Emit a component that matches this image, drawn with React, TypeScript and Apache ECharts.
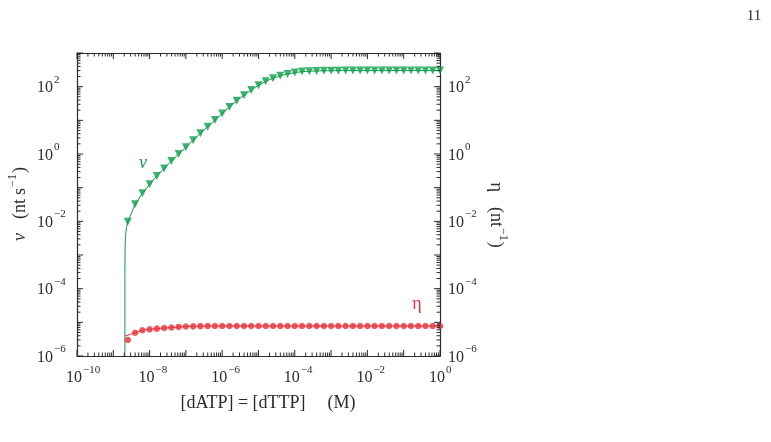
import React, { useEffect, useRef } from "react";
import * as echarts from "echarts";

const FONT = "'Liberation Serif', 'Times New Roman', serif";
const GREEN = "#0e9e4c";
const RED = "#ea2e37";
const INK = "#2b2b2b";

// nucleotide concentration [dATP] = [dTTP] (M), sampled points
const concentration = [
  2.51e-9, 3.98e-9, 6.31e-9, 1e-8, 1.58e-8, 2.51e-8, 3.98e-8, 6.31e-8,
  1e-7, 1.58e-7, 2.51e-7, 3.98e-7, 6.31e-7, 1e-6, 1.58e-6, 2.51e-6,
  3.98e-6, 6.31e-6, 1e-5, 1.58e-5, 2.51e-5, 3.98e-5, 6.31e-5, 1e-4,
  1.58e-4, 2.51e-4, 3.98e-4, 6.31e-4, 1e-3, 1.58e-3, 2.51e-3, 3.98e-3,
  6.31e-3, 1e-2, 1.58e-2, 2.51e-2, 3.98e-2, 6.31e-2, 0.1, 0.158, 0.251,
  0.398, 0.631, 1,
];

// velocity v (nt s^-1)
const velocity = [
  0.0098, 0.032, 0.068, 0.126, 0.224, 0.37, 0.62, 1.0, 1.58, 2.57, 4.1,
  6.5, 10.2, 16, 25, 38, 56, 79, 110, 144, 178, 212, 238, 262, 280, 288,
  293, 296, 298, 299, 300, 300, 300, 300, 300, 300, 300, 300, 300, 300,
  300, 300, 300, 300,
];

// error fraction eta (nt^-1)
const eta = [
  3.0e-6, 4.9e-6, 5.8e-6, 6.2e-6, 6.5e-6, 6.8e-6, 7.0e-6, 7.3e-6, 7.5e-6,
  7.6e-6, 7.7e-6, 7.8e-6, 7.8e-6, 7.8e-6, 7.8e-6, 7.8e-6, 7.8e-6, 7.8e-6,
  7.8e-6, 7.8e-6, 7.8e-6, 7.8e-6, 7.8e-6, 7.8e-6, 7.8e-6, 7.8e-6, 7.8e-6,
  7.8e-6, 7.8e-6, 7.8e-6, 7.8e-6, 7.8e-6, 7.8e-6, 7.8e-6, 7.8e-6, 7.8e-6,
  7.8e-6, 7.8e-6, 7.8e-6, 7.8e-6, 7.8e-6, 7.8e-6, 7.8e-6, 7.8e-6,
];

// theory curves near the onset concentration
const onsetConcentration = [2.09e-9, 2.09e-9, 2.11e-9, 2.17e-9, 2.3e-9];
const onsetVelocity = [1e-6, 3e-4, 1.5e-3, 3.5e-3, 6.5e-3];
const onsetEtaConcentration = [2.09e-9];
const onsetEta = [3.9e-6];

// axis ranges (decade exponents) and labelled decades
const xDecades = [-10, 0];
const yDecades = [-6, 3];
const xLabelExponents = [-10, -8, -6, -4, -2, 0];
const yLabelExponents = [-6, -4, -2, 0, 2];

const LABEL_FONT = `16px ${FONT}`;
const SUP_FONT = `11px ${FONT}`;
const NAME_FONT = `18px ${FONT}`;
const NAME_SUP_FONT = `12px ${FONT}`;

function logTicks(range: number[]) {
  const out: number[][] = [];
  for (let d = range[0]; d < range[1]; d++) {
    for (let k = 1; k <= 9; k++) out.push([k * Math.pow(10, d), k === 1 ? 1 : 0]);
  }
  out.push([Math.pow(10, range[1]), 1]);
  return out;
}

function expText(e: number) {
  return e < 0 ? "\u2212" + -e : String(e);
}

let measureCtx: CanvasRenderingContext2D | null = null;
function textWidth(text: string, font: string) {
  if (!measureCtx) measureCtx = document.createElement("canvas").getContext("2d");
  if (!measureCtx) return text.length * 8;
  measureCtx.font = font;
  return measureCtx.measureText(text).width;
}

type Piece = { text: string; font: string; dy?: number; gap?: number; fill?: string };

// lays pieces out left to right, centred on the local origin
function textRun(pieces: Piece[], fill: string) {
  const widths = pieces.map((p) => textWidth(p.text, p.font));
  const total = pieces.reduce((s, p, i) => s + widths[i] + (p.gap || 0), 0);
  let x = -total / 2;
  return pieces.map((p, i) => {
    x += p.gap || 0;
    const el = {
      type: "text",
      x,
      y: p.dy || 0,
      style: { text: p.text, font: p.font, fill: p.fill || fill, align: "left", verticalAlign: "middle" },
    };
    x += widths[i];
    return el;
  });
}

export default function App() {
  const ref = useRef<HTMLDivElement>(null);

  useEffect(() => {
    if (!ref.current) return;
    const chart = echarts.init(ref.current, null, { renderer: "svg" });

    const vFit = onsetConcentration
      .map((c, i) => [c, onsetVelocity[i]])
      .concat(concentration.map((c, i) => [c, velocity[i]]));
    const etaFit = onsetEtaConcentration
      .map((c, i) => [c, onsetEta[i]])
      .concat(concentration.slice(1).map((c, i) => [c, eta[i + 1]]));

    const xTickData = logTicks(xDecades).map(([v, m]) => [v, 1, m]);
    const yTickData = logTicks(yDecades).map(([v, m]) => [1e-5, v, m]);
    const xLabelData = xLabelExponents.map((e) => [Math.pow(10, e), 1, e]);
    const yLabelData = yLabelExponents.map((e) => [1e-5, Math.pow(10, e), e]);

    const tickStyle = { stroke: INK, lineWidth: 1 };
    const tenWidth = textWidth("10", LABEL_FONT);

    const axisCommon = {
      type: "log" as const,
      logBase: 10,
      axisLine: { show: true, onZero: false, lineStyle: { color: INK, width: 1.2 } },
      axisTick: { show: false },
      axisLabel: { show: false },
      splitLine: { show: false },
      minorTick: { show: false },
    };
    const xRange = { min: Math.pow(10, xDecades[0]), max: Math.pow(10, xDecades[1]) };
    const yRange = { min: Math.pow(10, yDecades[0]), max: Math.pow(10, yDecades[1]) };

    const labelText = (x: number, y: number, text: string, font: string, align: string) => ({
      type: "text",
      x,
      y,
      style: { text, font, fill: INK, align, verticalAlign: "middle" },
    });

    chart.setOption({
      animation: false,
      grid: { left: 77, right: 331, top: 53, bottom: 86 },
      xAxis: [
        { ...axisCommon, ...xRange, position: "bottom" },
        { ...axisCommon, ...xRange, position: "top" },
      ],
      yAxis: [
        { ...axisCommon, ...yRange, position: "left" },
        { ...axisCommon, ...yRange, position: "right" },
      ],
      series: [
        {
          name: "v theory",
          type: "line",
          data: vFit,
          showSymbol: false,
          symbol: "none",
          lineStyle: { color: GREEN, width: 1 },
          z: 2,
        },
        {
          name: "v",
          type: "scatter",
          data: concentration.map((c, i) => [c, velocity[i]]),
          symbol: "triangle",
          symbolRotate: 180,
          symbolSize: 8,
          itemStyle: { color: GREEN },
          z: 3,
        },
        {
          name: "eta theory",
          type: "line",
          data: etaFit,
          showSymbol: false,
          symbol: "none",
          lineStyle: { color: RED, width: 1 },
          z: 2,
        },
        {
          name: "eta",
          type: "scatter",
          data: concentration.map((c, i) => [c, eta[i]]),
          symbol: "circle",
          symbolSize: 6.5,
          itemStyle: { color: RED },
          z: 3,
        },
        {
          name: "x ticks",
          type: "custom",
          silent: true,
          clip: false,
          encode: { x: 0, y: 1 },
          data: xTickData,
          renderItem: (params: any, api: any) => {
            const cs = params.coordSys;
            const x = api.coord([api.value(0), 1])[0];
            const len = api.value(2) ? 6 : 3.5;
            const b = cs.y + cs.height;
            return {
              type: "group",
              children: [
                { type: "line", shape: { x1: x, y1: b, x2: x, y2: b - len }, style: tickStyle },
                { type: "line", shape: { x1: x, y1: cs.y, x2: x, y2: cs.y + len }, style: tickStyle },
              ],
            };
          },
          z: 4,
        },
        {
          name: "y ticks",
          type: "custom",
          silent: true,
          clip: false,
          encode: { x: 0, y: 1 },
          data: yTickData,
          renderItem: (params: any, api: any) => {
            const cs = params.coordSys;
            const y = api.coord([1e-5, api.value(1)])[1];
            const len = api.value(2) ? 6 : 3.5;
            const r = cs.x + cs.width;
            return {
              type: "group",
              children: [
                { type: "line", shape: { x1: cs.x, y1: y, x2: cs.x + len, y2: y }, style: tickStyle },
                { type: "line", shape: { x1: r, y1: y, x2: r - len, y2: y }, style: tickStyle },
              ],
            };
          },
          z: 4,
        },
        {
          name: "x labels",
          type: "custom",
          silent: true,
          clip: false,
          encode: { x: 0, y: 1 },
          data: xLabelData,
          renderItem: (params: any, api: any) => {
            const cs = params.coordSys;
            const x = api.coord([api.value(0), 1])[0];
            const base = cs.y + cs.height + 20;
            return {
              type: "group",
              children: [
                labelText(x + 5, base, "10", LABEL_FONT, "right"),
                labelText(x + 6, base - 7, expText(api.value(2)), SUP_FONT, "left"),
              ],
            };
          },
        },
        {
          name: "y labels",
          type: "custom",
          silent: true,
          clip: false,
          encode: { x: 0, y: 1 },
          data: yLabelData,
          renderItem: (params: any, api: any) => {
            const cs = params.coordSys;
            const y = api.coord([1e-5, api.value(1)])[1];
            const e = expText(api.value(2));
            const lx = cs.x - 24;
            const rx = cs.x + cs.width + 8;
            return {
              type: "group",
              children: [
                labelText(lx, y, "10", LABEL_FONT, "right"),
                labelText(lx + 1, y - 8, e, SUP_FONT, "left"),
                labelText(rx, y, "10", LABEL_FONT, "left"),
                labelText(rx + tenWidth + 1, y - 8, e, SUP_FONT, "left"),
              ],
            };
          },
        },
      ],
      graphic: [
        {
          type: "text",
          x: 143,
          y: 162,
          style: { text: "ν", font: `italic 18px ${FONT}`, fill: GREEN, align: "center", verticalAlign: "middle" },
        },
        {
          type: "text",
          x: 417,
          y: 303,
          style: { text: "η", font: `18px ${FONT}`, fill: RED, align: "center", verticalAlign: "middle" },
        },
        {
          type: "group",
          x: 19,
          y: 204,
          rotation: Math.PI / 2,
          children: textRun(
            [
              { text: "ν", font: `italic 18px ${FONT}` },
              { text: "(nt", font: NAME_FONT, gap: 14 },
              { text: "s", font: NAME_FONT, gap: 4 },
              { text: "\u22121", font: NAME_SUP_FONT, dy: -7, gap: 1 },
              { text: ")", font: NAME_FONT, gap: 1 },
            ],
            INK
          ),
        },
        {
          type: "group",
          x: 497,
          y: 215,
          rotation: -Math.PI / 2,
          children: textRun(
            [
              { text: "η", font: `19px ${FONT}` },
              { text: "(nt", font: NAME_FONT, gap: 15 },
              { text: "\u22121", font: NAME_SUP_FONT, dy: -7, gap: 1 },
              { text: ")", font: NAME_FONT, gap: 1 },
            ],
            INK
          ),
        },
        {
          type: "group",
          x: 268,
          y: 402,
          children: textRun(
            [
              { text: "[dATP] = [dTTP]", font: NAME_FONT },
              { text: "(M)", font: NAME_FONT, gap: 22 },
            ],
            INK
          ),
        },
        {
          type: "text",
          x: 754,
          y: 15,
          style: { text: "11", font: `15px ${FONT}`, fill: INK, align: "center", verticalAlign: "middle" },
        },
      ],
    });

    return () => chart.dispose();
  }, []);

  return (
    <div
      ref={ref}
      style={{ position: "fixed", left: 0, top: 0, width: 771, height: 442 }}
    />
  );
}
